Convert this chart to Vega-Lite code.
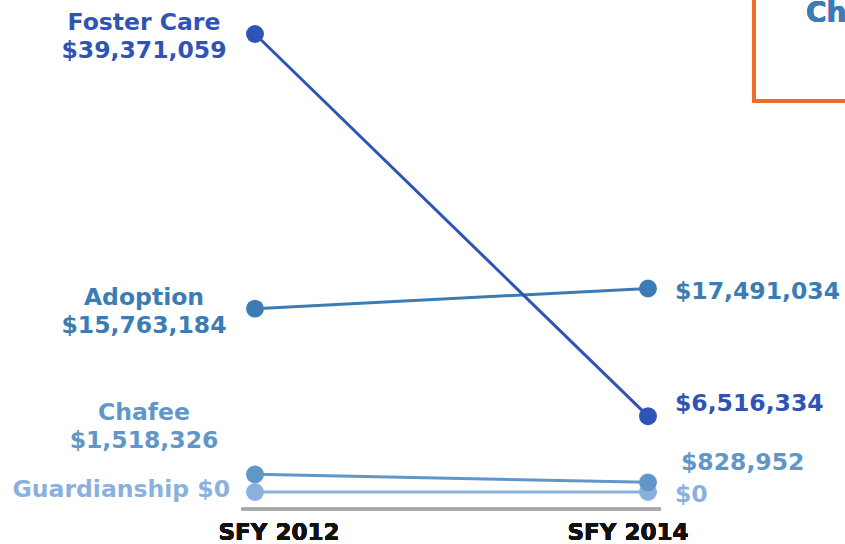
{
  "$schema": "https://vega.github.io/schema/vega-lite/v6.json",
  "width": 845,
  "height": 544,
  "autosize": "none",
  "padding": 0,
  "background": "white",
  "config": {
    "view": {"stroke": null},
    "text": {"font": "DejaVu Sans", "fontWeight": "bold", "fontSize": 23.5}
  },
  "data": {
    "values": [
      {"program": "Guardianship", "year": 2012, "amount": 0, "label": "$0"},
      {"program": "Guardianship", "year": 2014, "amount": 0, "label": "$0"},
      {"program": "Chafee", "year": 2012, "amount": 1518326, "label": "$1,518,326"},
      {"program": "Chafee", "year": 2014, "amount": 828952, "label": "$828,952"},
      {"program": "Adoption", "year": 2012, "amount": 15763184, "label": "$15,763,184"},
      {"program": "Adoption", "year": 2014, "amount": 17491034, "label": "$17,491,034"},
      {"program": "Foster Care", "year": 2012, "amount": 39371059, "label": "$39,371,059"},
      {"program": "Foster Care", "year": 2014, "amount": 6516334, "label": "$6,516,334"}
    ]
  },
  "encoding": {
    "x": {"field": "year", "type": "quantitative", "scale": {"domain": [2010.7023, 2015.0026], "nice": false, "zero": false}, "axis": null},
    "y": {"field": "amount", "type": "quantitative", "scale": {"domain": [-4470076, 42293796], "nice": false, "zero": false}, "axis": null},
    "color": {
      "field": "program",
      "type": "nominal",
      "scale": {"domain": ["Foster Care", "Adoption", "Chafee", "Guardianship"], "range": ["#2F54B5", "#3B7CB4", "#6196C8", "#8AB1DE"]},
      "legend": null
    }
  },
  "layer": [
    {
      "mark": {"type": "rule", "color": "#A8A8A8", "strokeWidth": 2.5},
      "encoding": {"x": {"datum": 2011.9313}, "x2": {"datum": 2014.0662}, "y": {"datum": -1461371}, "color": {"value": "#A8A8A8"}}
    },
    {
      "mark": {"type": "line", "strokeWidth": 3},
      "encoding": {"detail": {"field": "program"}}
    },
    {
      "mark": {"type": "point", "filled": true, "opacity": 1, "size": 320}
    },
    {
      "transform": [{"filter": "datum.year == 2012 && (datum.program == 'Foster Care' || datum.program == 'Adoption')"}],
      "mark": {"type": "text", "align": "center", "baseline": "alphabetic", "dx": -111, "dy": -4},
      "encoding": {"text": {"field": "program"}}
    },
    {
      "transform": [{"filter": "datum.year == 2012 && (datum.program == 'Foster Care' || datum.program == 'Adoption')"}],
      "mark": {"type": "text", "align": "center", "baseline": "alphabetic", "dx": -111, "dy": 24},
      "encoding": {"text": {"field": "label"}}
    },
    {
      "transform": [{"filter": "datum.year == 2012 && datum.program == 'Chafee'"}],
      "mark": {"type": "text", "align": "center", "baseline": "alphabetic", "dx": -111, "dy": -54},
      "encoding": {"text": {"field": "program"}}
    },
    {
      "transform": [{"filter": "datum.year == 2012 && datum.program == 'Chafee'"}],
      "mark": {"type": "text", "align": "center", "baseline": "alphabetic", "dx": -111, "dy": -26},
      "encoding": {"text": {"field": "label"}}
    },
    {
      "transform": [{"filter": "datum.year == 2012 && datum.program == 'Guardianship'"}],
      "mark": {"type": "text", "align": "right", "baseline": "alphabetic", "dx": -25, "dy": 5, "fontSize": 23.5},
      "encoding": {"text": {"value": "Guardianship $0"}}
    },
    {
      "transform": [{"filter": "datum.year == 2014 && (datum.program == 'Adoption' || datum.program == 'Guardianship')"}],
      "mark": {"type": "text", "align": "left", "baseline": "alphabetic", "dx": 27, "dy": 10},
      "encoding": {"text": {"field": "label"}}
    },
    {
      "transform": [{"filter": "datum.year == 2014 && datum.program == 'Foster Care'"}],
      "mark": {"type": "text", "align": "left", "baseline": "alphabetic", "dx": 27, "dy": -5},
      "encoding": {"text": {"field": "label"}}
    },
    {
      "transform": [{"filter": "datum.year == 2014 && datum.program == 'Chafee'"}],
      "mark": {"type": "text", "align": "left", "baseline": "alphabetic", "dx": 33, "dy": -12},
      "encoding": {"text": {"field": "label"}}
    },
    {
      "mark": {"type": "text", "align": "center", "baseline": "alphabetic", "color": "#111111", "fontSize": 23, "dx": 24, "dy": 48},
      "encoding": {"x": {"datum": 2012}, "y": {"datum": 0}, "text": {"value": "SFY 2012"}, "color": {"value": "#111111"}}
    },
    {
      "mark": {"type": "text", "align": "center", "baseline": "alphabetic", "color": "#111111", "fontSize": 23, "dx": -20, "dy": 48},
      "encoding": {"x": {"datum": 2014}, "y": {"datum": 0}, "text": {"value": "SFY 2014"}, "color": {"value": "#111111"}}
    },
    {
      "mark": {"type": "rect", "fill": null, "stroke": "#F26B2B", "strokeWidth": 3},
      "encoding": {"x": {"datum": 2014.5394}, "x2": {"datum": 2015.8}, "y": {"datum": 33611533}, "y2": {"datum": 44000000}, "color": {"value": "#F26B2B"}}
    },
    {
      "mark": {"type": "text", "align": "left", "baseline": "alphabetic", "fontSize": 28},
      "encoding": {"x": {"datum": 2014.8045}, "y": {"datum": 40402610}, "text": {"value": "Change"}, "color": {"value": "#3B7CB4"}}
    }
  ]
}
